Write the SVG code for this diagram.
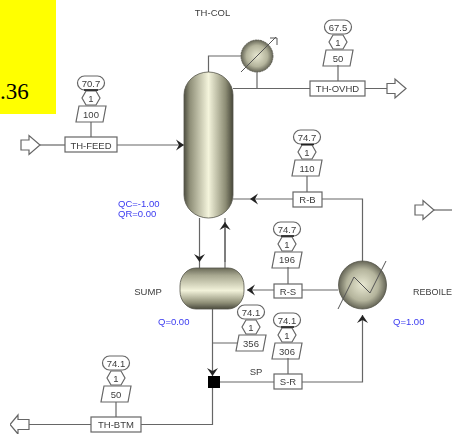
<svg xmlns="http://www.w3.org/2000/svg" width="452" height="436" viewBox="0 0 452 436">
<style>
text{font-family:"Liberation Sans",Arial,sans-serif;font-size:9.5px;fill:#3c3c3c;text-anchor:middle}
.q{fill:#3a3af0;text-anchor:start}
.ln{fill:none;stroke:#666;stroke-width:1.2}
.fl{fill:#fff;stroke:#666;stroke-width:1.2}
.eq{stroke:#55554a;stroke-width:.8}
.ol{fill:none;stroke:#555;stroke-width:1}
.tk{stroke:#222;stroke-width:1.6}
</style>
<defs>
<filter id="soft" x="0" y="0" width="100%" height="100%"><feGaussianBlur stdDeviation="0.4"/></filter>
<linearGradient id="h" x1="0" x2="1" y1="0" y2="0"><stop offset="0" stop-color="#4e4e42"/><stop offset=".12" stop-color="#8f8f78"/><stop offset=".5" stop-color="#f4f4dc"/><stop offset=".85" stop-color="#8c8c74"/><stop offset="1" stop-color="#46463a"/></linearGradient>
<linearGradient id="v" x1="0" x2="0" y1="0" y2="1"><stop offset="0" stop-color="#6a6a58"/><stop offset=".18" stop-color="#a8a890"/><stop offset=".55" stop-color="#f2f2da"/><stop offset=".85" stop-color="#8e8e76"/><stop offset="1" stop-color="#4a4a3e"/></linearGradient>
<radialGradient id="r" cx=".5" cy=".5" r=".55"><stop offset="0" stop-color="#e8e8d2"/><stop offset=".6" stop-color="#b4b49c"/><stop offset="1" stop-color="#4e4e42"/></radialGradient>
<marker id="a" markerUnits="userSpaceOnUse" markerWidth="12" markerHeight="12" refX="8" refY="6" orient="auto"><path d="M0,0.500 L8,6 L0,11.500 L3,6 Z" fill="#222"/></marker>
<g id="tag">
<rect x="-13.500" y="-7" width="27" height="14" rx="7" class="fl"/>
<path d="M-5,8 H5 L9,15 L5,22 H-5 L-9,15 Z" class="fl"/>
<path d="M-12,23 H15 L12,39 H-15 Z" class="fl"/>
</g>
<path id="open" d="M0,-5 H8 V-9.500 L19,0 L8,9.500 V5 H0 Z" class="fl"/>
</defs>
<rect x="0" y="0" width="56" height="114" fill="#ffff00"/>
<text x="0" y="99" style="font-family:'Liberation Serif',serif;font-size:23px;fill:#000;text-anchor:start">.36</text>
<g filter="url(#soft)">
<g id="connectors">
<path class="ln" d="M208.500 73 V56 H241"/>
<path class="ln" d="M233 88.500 H310 M257 72 V88.500 M365 88.500 H387"/>
<path class="ln" d="M40 145 H65"/>
<path class="ln" d="M117 145 H184" marker-end="url(#a)"/>
<path class="ln" d="M293 199 H250" marker-end="url(#a)"/>
<path class="ln" d="M250 199 H233 M322 199 H362.500 V261"/>
<path class="ln" d="M199.500 218 V262" marker-end="url(#a)"/>
<path class="ln" d="M199.500 262 V268 M225 262 V218"/>
<path class="ln" d="M225 268 V222" marker-end="url(#a)"/>
<path class="ln" d="M338 290 H302 M274 290 H247" marker-end="url(#a)"/>
<path class="ln" d="M302 382 H362.500 V315" marker-end="url(#a)"/>
<path class="ln" d="M220 382 H274"/>
<path class="ln" d="M212.500 309 V376" marker-end="url(#a)"/>
<path class="ln" d="M212.500 343 H238 M212.500 388 V424.500 H141 M91 424.500 H29"/>
<path class="ln" d="M434 210 H452"/>
</g>
<g id="TH-COL">
<rect x="184" y="72" width="49" height="146" rx="24.500" ry="23" fill="url(#h)" class="eq"/>
<text x="212.500" y="15.500">TH-COL</text>
<text class="q" x="118" y="207">QC=-1.00</text>
<text class="q" x="118" y="217">QR=0.00</text>
</g>
<g id="condenser">
<circle cx="257" cy="56" r="16" fill="url(#r)" class="eq" stroke-dasharray="2 .6"/>
<path class="ol" d="M241 72 L276 37 M270 38 H277 V45"/>
</g>
<g id="SUMP">
<rect x="180" y="268" width="64" height="41" rx="16" ry="18" fill="url(#v)" class="eq"/>
<text x="148" y="294.500">SUMP</text>
<text class="q" x="158" y="325">Q=0.00</text>
</g>
<g id="REBOILER">
<circle cx="362.500" cy="285" r="24" fill="url(#r)" class="eq"/>
<path class="ol" d="M338 309 L354 277 L370 293 L386 261"/>
<text x="413" y="295" style="text-anchor:start;font-size:9px">REBOILE</text>
<text class="q" x="393" y="325">Q=1.00</text>
</g>
<g id="SP">
<rect x="208" y="376" width="12" height="12" fill="#000"/>
<text x="256" y="375">SP</text>
</g>
<g id="TH-FEED">
<use href="#open" x="21" y="145"/>
<rect class="fl" x="65" y="137" width="52" height="15"/>
<text x="91" y="148.500">TH-FEED</text>
<use href="#tag" x="91" y="83"/><path class="tk" d="M84 90 H98"/><path class="ln" d="M91 122 V137"/>
<text x="91" y="86.500">70.7</text><text x="91" y="101.500">1</text><text x="91" y="118">100</text>
</g>
<g id="TH-OVHD">
<use href="#open" x="387" y="88.500"/>
<rect class="fl" x="310" y="81" width="55" height="15"/>
<text x="337.500" y="92">TH-OVHD</text>
<use href="#tag" x="338" y="27"/><path class="ln" d="M338 65 V81"/>
<text x="338" y="30.500">67.5</text><text x="338" y="46">1</text><text x="338" y="61.500">50</text>
</g>
<g id="R-B">
<rect class="fl" x="293" y="192" width="29" height="15"/>
<text x="307.500" y="203">R-B</text>
<use href="#tag" x="307" y="137"/><path class="tk" d="M301 144.500 H314"/><path class="ln" d="M307 176 V192"/>
<text x="307" y="140.500">74.7</text><text x="307" y="156">1</text><text x="307" y="172">110</text>
</g>
<g id="R-S">
<rect class="fl" x="274" y="284" width="28" height="14"/>
<text x="288" y="294.500">R-S</text>
<use href="#tag" x="287" y="229"/><path class="tk" d="M281 236 H294"/><path class="ln" d="M288 267 V284"/>
<text x="287" y="232.500">74.7</text><text x="287" y="247.500">1</text><text x="287" y="263">196</text>
</g>
<g id="S-R">
<rect class="fl" x="274" y="374" width="28" height="15"/>
<text x="288" y="385">S-R</text>
<use href="#tag" x="287" y="320"/><path class="tk" d="M281 327 H294"/><path class="ln" d="M288 358 V374"/>
<text x="287" y="323.500">74.1</text><text x="287" y="339">1</text><text x="287" y="355">306</text>
</g>
<g id="S356">
<use href="#tag" x="251" y="312"/>
<text x="251" y="315.500">74.1</text><text x="251" y="331">1</text><text x="251" y="347">356</text>
</g>
<g id="TH-BTM">
<path d="M29 419.500 H18 V415 L10 424.500 L18 434 V429.500 H29 Z" class="fl"/>
<rect class="fl" x="91" y="417" width="50" height="15"/>
<text x="116" y="428">TH-BTM</text>
<use href="#tag" x="116" y="363"/><path class="ln" d="M116 402 V417"/>
<text x="116" y="366.500">74.1</text><text x="116" y="382">1</text><text x="116" y="398">50</text>
</g>
<g id="OUT">
<use href="#open" x="415" y="210"/>
</g>
</g>
</svg>
